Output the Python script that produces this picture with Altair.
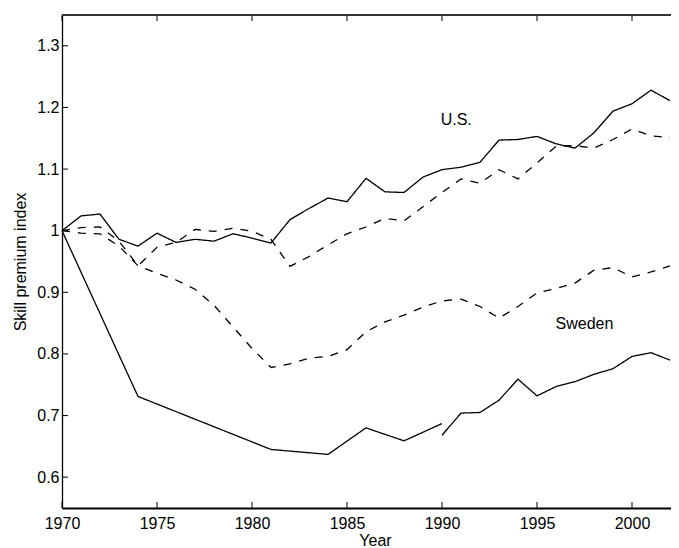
import altair as alt
import pandas as pd

# ---- data ----
years = list(range(1970, 2003))

us_solid = [1.000, 1.024, 1.027, 0.986, 0.975, 0.996, 0.981, 0.986, 0.983, 0.995,
            0.988, 0.980, 1.018, 1.036, 1.053, 1.047, 1.085, 1.063, 1.062, 1.087,
            1.099, 1.103, 1.111, 1.147, 1.148, 1.153, 1.141, 1.134, 1.159, 1.194,
            1.206, 1.228, 1.211]

us_dashed = [1.000, 1.005, 1.006, 0.983, 0.943, 0.973, 0.981, 1.002, 0.999, 1.004,
             0.999, 0.986, 0.942, 0.958, 0.977, 0.995, 1.006, 1.020, 1.016, 1.039,
             1.062, 1.084, 1.077, 1.099, 1.084, 1.110, 1.137, 1.138, 1.134, 1.148,
             1.165, 1.154, 1.151]

se_dashed = [1.000, 0.996, 0.995, 0.975, 0.943, 0.931, 0.920, 0.905, 0.879, 0.844,
             0.809, 0.778, 0.784, 0.793, 0.796, 0.807, 0.836, 0.852, 0.863, 0.876,
             0.886, 0.889, 0.877, 0.858, 0.877, 0.899, 0.906, 0.915, 0.936, 0.940,
             0.925, 0.933, 0.943]

se_solid_a_years = [1970, 1974, 1981, 1984, 1986, 1988, 1990]
se_solid_a = [1.000, 0.731, 0.645, 0.637, 0.680, 0.659, 0.687]

se_solid_b_years = list(range(1990, 2003))
se_solid_b = [0.668, 0.704, 0.705, 0.725, 0.759, 0.732, 0.747, 0.755, 0.767,
              0.776, 0.796, 0.802, 0.790]

x_ticks = [1970, 1975, 1980, 1985, 1990, 1995, 2000]
y_ticks = [0.6, 0.7, 0.8, 0.9, 1.0, 1.1, 1.2, 1.3]

label_text = ["U.S.", "Sweden"]
label_year = [1990.75, 1997.5]
label_value = [1.180, 0.849]

# ---- build tables ----
rows = []
for seg, style, xs, ys in [
    ("us_solid", "solid", years, us_solid),
    ("us_dashed", "dashed", years, us_dashed),
    ("se_dashed", "dashed", years, se_dashed),
    ("se_solid_a", "solid", se_solid_a_years, se_solid_a),
    ("se_solid_b", "solid", se_solid_b_years, se_solid_b),
]:
    for xv, yv in zip(xs, ys):
        rows.append({"year": xv, "value": yv, "segment": seg, "style": style})
df = pd.DataFrame(rows)

xt = pd.DataFrame({"t": x_ticks})
yt = pd.DataFrame({"t": y_ticks})
labels = pd.DataFrame({"text": label_text, "year": label_year, "value": label_value})

W, H = 609, 493
FONT = "Liberation Sans"

xscale = alt.Scale(domain=[1970, 1970 + W / 19.0], nice=False, zero=False)
yscale = alt.Scale(domain=[0.55, 1.35], nice=False, zero=False)

lines = alt.Chart(df).mark_line(color="black", strokeWidth=1.3).encode(
    x=alt.X("year:Q", scale=xscale,
            axis=alt.Axis(values=x_ticks, format="d", title="Year", ticks=False,
                          grid=False, labelFlush=False, labelFont=FONT,
                          labelFontSize=16, labelColor="black", labelPadding=7,
                          titleFont=FONT, titleFontSize=16, titleFontWeight="normal",
                          titleColor="black", titleX=313, titlePadding=1,
                          domainColor="black", domainWidth=2)),
    y=alt.Y("value:Q", scale=yscale,
            axis=alt.Axis(values=y_ticks, format="~g", title="Skill premium index",
                          ticks=False, grid=False, labelFlush=False, labelFont=FONT,
                          labelFontSize=16, labelColor="black", labelPadding=3,
                          titleFont=FONT, titleFontSize=16, titleFontWeight="normal",
                          titleColor="black", titlePadding=8,
                          domainColor="black", domainWidth=1.3)),
    detail="segment:N",
    strokeDash=alt.StrokeDash("style:N",
                              scale=alt.Scale(domain=["solid", "dashed"],
                                              range=[[1, 0], [8, 8]]),
                              legend=None),
)

bottom_ticks = alt.Chart(xt).mark_rule(color="black", strokeWidth=1).encode(
    x=alt.X("t:Q", scale=xscale), y=alt.value(H), y2=alt.value(H - 6))
top_ticks = alt.Chart(xt).mark_rule(color="black", strokeWidth=1).encode(
    x=alt.X("t:Q", scale=xscale), y=alt.value(0), y2=alt.value(6))
left_ticks = alt.Chart(yt).mark_rule(color="black", strokeWidth=1).encode(
    y=alt.Y("t:Q", scale=yscale), x=alt.value(0), x2=alt.value(6))
top_border = alt.Chart(xt).mark_rule(color="#333333", strokeWidth=1.3).encode(
    x=alt.value(0), x2=alt.value(W), y=alt.value(0))

texts = alt.Chart(labels).mark_text(font=FONT, fontSize=16, color="black",
                                    align="center", baseline="middle").encode(
    x=alt.X("year:Q", scale=xscale), y=alt.Y("value:Q", scale=yscale), text="text:N")

chart = alt.layer(lines, bottom_ticks, top_ticks, left_ticks, top_border, texts).properties(
    width=W, height=H,
    autosize=alt.AutoSizeParams(type="none"),
    padding={"left": 54, "top": 7, "right": 0, "bottom": 40},
).configure_view(stroke=None).configure(background="white")

chart.save("out.html", embed_options={"renderer": "svg", "actions": False})
